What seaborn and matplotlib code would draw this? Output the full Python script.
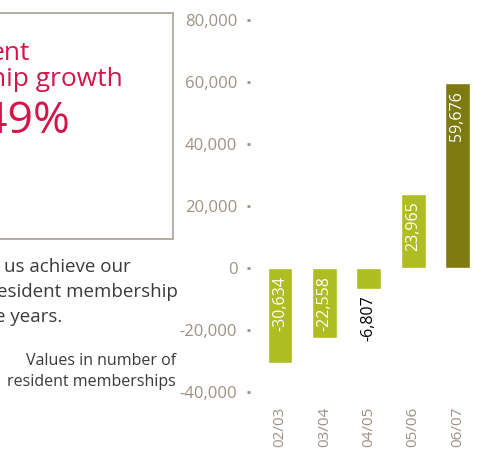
import matplotlib
matplotlib.use('Agg')
import matplotlib.pyplot as plt
import matplotlib.patches as patches
from matplotlib.ticker import FuncFormatter
import seaborn as sns
import pandas as pd

# Datos del gráfico
years = ['02/03', '03/04', '04/05', '05/06', '06/07']
growth = [-30634, -22558, -6807, 23965, 59676]
bar_colors = ['#afbc22', '#afbc22', '#afbc22', '#afbc22', '#7d7a10']
y_ticks = [80000, 60000, 40000, 20000, 0, -20000, -40000]

sns.set_theme(style='white')
plt.rcParams['font.family'] = ['Open Sans', 'DejaVu Sans']

GRAY = '#9e9286'
RED = '#d2164a'
DARK = '#3a3a3a'

df = pd.DataFrame({'year': years, 'growth': growth})

fig = plt.figure(figsize=(4.79, 4.5), dpi=100)
ax = fig.add_axes([247 / 479, 1 - 400 / 450, 232 / 479, 390 / 450])

sns.barplot(data=df, x='year', y='growth', hue='year', palette=bar_colors,
            width=0.56, legend=False, ax=ax, saturation=1)

ax.set_xlim(-0.744, 4.485)
ax.set_ylim(-42581, 83226)
ax.set_yticks(y_ticks)
ax.yaxis.set_major_formatter(FuncFormatter(lambda v, p: f'{int(v):,}'))
for s in ax.spines.values():
    s.set_visible(False)
ax.tick_params(axis='y', length=2, width=2, color=GRAY, direction='in', pad=7,
               labelsize=12, labelcolor=GRAY, left=True)
ax.tick_params(axis='x', length=0, pad=5, labelsize=11, labelcolor=GRAY,
               labelrotation=90)
ax.set_xlabel('')
ax.set_ylabel('')

# Etiquetas de valores dentro/fuera de las barras
px = 1 / 0.0031  # unidades de datos por píxel
for i, v in enumerate(growth):
    txt = f'{v:,}'
    if v >= 0:
        ax.text(i, v - 8 * px, txt, rotation=90, ha='center', va='top',
                color='white', fontsize=11.5)
    elif abs(v) > 15000:
        ax.text(i, -8 * px, txt, rotation=90, ha='center', va='top',
                color='white', fontsize=11.5)
    else:
        ax.text(i, v - 6 * px, txt, rotation=90, ha='center', va='top',
                color='black', fontsize=11.5)

# Recuadro con el texto destacado
box = patches.Rectangle((-0.1, 1 - 239 / 450), (173 + 48) / 479, 226 / 450,
                        transform=fig.transFigure, fill=False,
                        edgecolor='#a89e93', linewidth=1.2, clip_on=False)
fig.add_artist(box)

def fx(x):
    return x / 479

def fy(y):
    return 1 - y / 450

fig.text(fx(30), fy(60), 'ent', ha='right', va='baseline', color=RED, fontsize=19)
fig.text(fx(123), fy(86), 'hip growth', ha='right', va='baseline', color=RED, fontsize=19)
fig.text(fx(70), fy(133), '49%', ha='right', va='baseline', color=RED, fontsize=32)

fig.text(fx(131), fy(272), 'us achieve our', ha='right', va='baseline',
         color=DARK, fontsize=13.5)
fig.text(fx(178), fy(297), 'esident membership', ha='right', va='baseline',
         color=DARK, fontsize=13.5)
fig.text(fx(62), fy(322), 'e years.', ha='right', va='baseline',
         color=DARK, fontsize=13.5)

fig.text(fx(176), fy(365), 'Values in number of', ha='right', va='baseline',
         color=DARK, fontsize=11.5)
fig.text(fx(176), fy(386), 'resident memberships', ha='right', va='baseline',
         color=DARK, fontsize=11.5)

fig.savefig('out.png', dpi=100, facecolor='white')
